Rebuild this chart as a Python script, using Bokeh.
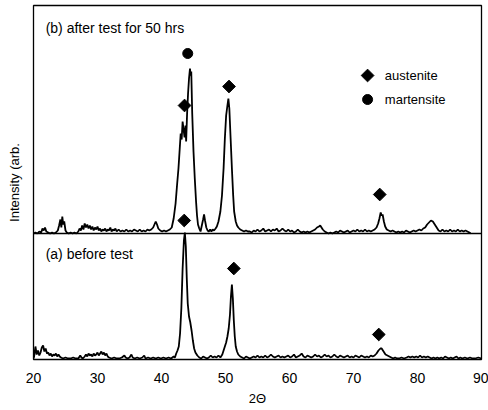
import numpy as np
from bokeh.plotting import figure
from bokeh.models import Range1d, FixedTicker
from bokeh.core.properties import value
from bokeh.embed import file_html
from bokeh.resources import INLINE

# ---------------- data ----------------
# (b) after test for 50 hrs : 2theta and intensity above its own baseline
b_theta = [20.0, 20.3, 20.6, 20.9, 21.2, 21.4, 21.6, 21.8, 22.0, 22.3, 22.6, 22.9, 23.2, 23.5, 23.8, 24.0,
           24.2, 24.35, 24.5, 24.65, 24.8, 25.0, 25.2, 25.5, 25.8, 26.1, 26.4, 26.7, 27.0, 27.2, 27.4, 27.6,
           27.8, 28.0, 28.2, 28.4, 28.6, 28.8, 29.0, 29.2, 29.4, 29.6, 29.8, 30.0, 30.2, 30.4, 30.6, 30.8,
           31.0, 31.2, 31.4, 31.6, 31.8, 32.0, 32.2, 32.4, 32.6, 32.8, 33.0, 33.3, 33.6, 33.9, 34.2, 34.5,
           34.8, 35.1, 35.4, 35.7, 36.0, 36.3, 36.6, 36.9, 37.2, 37.5, 37.8, 38.1, 38.4, 38.7, 38.9, 39.1,
           39.3, 39.5, 39.8, 40.1, 40.4, 40.7, 41.0, 41.3, 41.6, 41.9, 42.2, 42.45, 42.65, 42.85, 43.0, 43.15,
           43.3, 43.45, 43.6, 43.75, 43.85, 44.0, 44.15, 44.3, 44.45, 44.55, 44.65, 44.8, 45.0, 45.2, 45.4, 45.55,
           45.7, 45.9, 46.1, 46.3, 46.5, 46.65, 46.8, 47.0, 47.2, 47.4, 47.6, 47.8, 48.0, 48.2, 48.45, 48.65,
           48.9, 49.2, 49.45, 49.7, 49.9, 50.1, 50.3, 50.45, 50.6, 50.8, 51.0, 51.2, 51.35, 51.6, 51.8, 52.0,
           52.3, 52.6, 52.9, 53.2, 53.5, 53.8, 54.1, 54.4, 54.7, 55.0, 55.3, 55.6, 55.9, 56.2, 56.5, 56.8,
           57.1, 57.4, 57.7, 58.0, 58.3, 58.6, 58.9, 59.2, 59.5, 59.8, 60.1, 60.4, 60.7, 61.0, 61.3, 61.6,
           61.9, 62.2, 62.5, 62.8, 63.1, 63.4, 63.7, 64.0, 64.3, 64.6, 64.8, 65.0, 65.2, 65.5, 65.8, 66.1,
           66.4, 66.7, 67.0, 67.3, 67.6, 67.9, 68.2, 68.5, 68.8, 69.1, 69.4, 69.7, 70.0, 70.3, 70.6, 70.9,
           71.2, 71.5, 71.8, 72.1, 72.4, 72.7, 73.0, 73.3, 73.6, 73.85, 74.05, 74.25, 74.4, 74.55, 74.75, 74.95,
           75.2, 75.5, 75.8, 76.1, 76.4, 76.7, 77.0, 77.3, 77.6, 77.9, 78.2, 78.5, 78.8, 79.1, 79.4, 79.7,
           80.0, 80.3, 80.6, 80.9, 81.2, 81.5, 81.8, 82.1, 82.4, 82.7, 83.0, 83.3, 83.6, 83.9, 84.2, 84.5,
           84.8, 85.1, 85.4, 85.7, 86.0, 86.3, 86.6, 86.9, 87.2, 87.5, 87.8, 88.1, 88.3]
b_int = [0, 1, 0, 2, 1, 5, 3, 6, 2, 1, 0, 1, 0, 1, 3, 8,
         14, 6, 17, 9, 12, 3, 1, 0, 1, 0, 1, 0, 2, 5, 3, 8,
         4, 10, 6, 9, 5, 8, 4, 7, 3, 6, 4, 7, 3, 5, 2, 4,
         3, 5, 2, 4, 3, 6, 2, 4, 3, 5, 2, 4, 2, 3, 2, 4,
         2, 3, 2, 4, 3, 2, 4, 2, 3, 2, 4, 3, 4, 6, 9, 12,
         9, 5, 3, 2, 3, 2, 3, 4, 6, 15, 30, 50, 65, 85, 100, 94,
         112, 104, 96, 108, 92, 120, 140, 155, 165, 158, 162, 120, 82, 55, 32, 18,
         9, 5, 2, 8, 14, 19, 13, 6, 3, 2, 4, 2, 4, 3, 5, 7,
         12, 22, 38, 65, 95, 118, 128, 135, 125, 95, 65, 38, 22, 12, 8, 6,
         4, 3, 2, 3, 2, 2, 1, 3, 2, 4, 2, 3, 5, 2, 3, 4,
         2, 4, 3, 5, 2, 3, 5, 3, 2, 4, 2, 3, 1, 2, 4, 2,
         1, 2, 1, 2, 1, 2, 3, 4, 6, 7, 8, 6, 4, 2, 1, 0,
         1, 0, 1, 2, 1, 3, 2, 1, 2, 3, 1, 2, 3, 2, 4, 2,
         3, 2, 4, 2, 3, 2, 3, 4, 6, 10, 15, 21, 18, 19, 12, 7,
         4, 3, 2, 3, 2, 1, 2, 1, 2, 1, 3, 2, 1, 2, 3, 2,
         3, 4, 3, 5, 6, 9, 11, 13, 12, 9, 6, 3, 2, 4, 2, 3,
         2, 4, 2, 3, 2, 4, 2, 3, 2, 3, 2, 1, 0]

# (a) before test
a_theta = [20.0, 20.1, 20.3, 20.5, 20.7, 20.9, 21.1, 21.3, 21.5, 21.7, 21.9, 22.1, 22.3, 22.5, 22.7, 22.9,
           23.1, 23.3, 23.5, 23.7, 23.9, 24.1, 24.3, 24.6, 25.0, 25.4, 25.8, 26.2, 26.6, 27.0, 27.3, 27.5,
           27.7, 28.0, 28.2, 28.4, 28.6, 28.8, 29.0, 29.2, 29.4, 29.6, 29.8, 30.0, 30.2, 30.4, 30.6, 30.8,
           31.0, 31.2, 31.4, 31.6, 31.8, 32.2, 32.6, 33.0, 33.4, 33.8, 34.2, 34.4, 34.7, 35.0, 35.3, 35.5,
           35.8, 36.2, 36.6, 37.0, 37.3, 37.5, 37.9, 38.3, 38.7, 39.1, 39.5, 39.9, 40.3, 40.7, 41.1, 41.5,
           41.9, 42.1, 42.3, 42.5, 42.7, 42.9, 43.1, 43.3, 43.5, 43.65, 43.8, 43.95, 44.1, 44.3, 44.5, 44.7,
           44.9, 45.1, 45.3, 45.6, 45.9, 46.2, 46.5, 46.8, 47.1, 47.4, 47.7, 48.0, 48.3, 48.6, 48.9, 49.2,
           49.5, 49.7, 49.9, 50.1, 50.3, 50.5, 50.7, 50.85, 51.0, 51.15, 51.3, 51.45, 51.6, 51.8, 52.0, 52.3,
           52.6, 52.9, 53.2, 53.5, 53.8, 54.1, 54.4, 54.7, 55.0, 55.3, 55.6, 55.9, 56.2, 56.5, 56.8, 57.1,
           57.4, 57.7, 58.0, 58.3, 58.6, 58.9, 59.2, 59.5, 59.8, 60.1, 60.4, 60.7, 61.0, 61.3, 61.6, 61.9,
           62.2, 62.5, 62.8, 63.1, 63.4, 63.7, 64.0, 64.3, 64.6, 64.9, 65.2, 65.5, 65.8, 66.1, 66.4, 66.7,
           67.0, 67.3, 67.6, 67.9, 68.2, 68.5, 68.8, 69.1, 69.4, 69.7, 70.0, 70.3, 70.6, 70.9, 71.2, 71.5,
           71.8, 72.1, 72.4, 72.7, 73.0, 73.3, 73.6, 73.9, 74.2, 74.4, 74.7, 75.0, 75.3, 75.6, 75.9, 76.2,
           76.5, 76.8, 77.1, 77.5, 77.9, 78.3, 78.6, 78.9, 79.2, 79.5, 79.8, 80.1, 80.4, 80.7, 81.0, 81.3,
           81.6, 81.9, 82.2, 82.5, 82.8, 83.1, 83.4, 83.7, 84.0, 84.3, 84.6, 84.9, 85.2, 85.5, 85.8, 86.1,
           86.4, 86.7, 87.0, 87.4, 87.8, 88.2, 88.6, 89.0, 89.5, 90.0]
a_int = [0, 2, 12, 4, 8, 3, 6, 11, 13, 7, 10, 5, 6, 3, 5, 2,
         4, 3, 5, 2, 4, 2, 1, 0, 1, 0, 0, 1, 0, 0, 3, 1,
         0, 2, 4, 2, 5, 3, 4, 2, 5, 3, 4, 6, 3, 5, 7, 4,
         6, 3, 5, 2, 1, 0, 1, 0, 0, 1, 3, 1, 0, 1, 4, 1,
         0, 1, 0, 1, 3, 0, 1, 0, 1, 0, 1, 0, 1, 0, 1, 0,
         2, 1, 5, 8, 12, 25, 50, 90, 118, 126, 112, 80, 55, 42, 36, 28,
         18, 10, 6, 3, 1, 0, 2, 1, 0, 1, 3, 1, 2, 1, 3, 1,
         4, 8, 12, 16, 22, 30, 44, 62, 74, 60, 38, 22, 12, 7, 4, 2,
         1, 0, 2, 1, 0, 1, 2, 1, 3, 1, 2, 1, 3, 1, 2, 4,
         2, 1, 2, 3, 1, 2, 1, 2, 3, 1, 2, 4, 1, 2, 3, 5,
         2, 1, 3, 2, 1, 2, 4, 2, 3, 1, 2, 4, 2, 3, 1, 2,
         4, 2, 1, 3, 2, 1, 2, 3, 1, 2, 1, 3, 2, 1, 3, 2,
         1, 2, 1, 3, 2, 3, 5, 8, 10, 10, 7, 4, 3, 2, 1, 0,
         1, 0, 0, 1, 0, 1, 2, 1, 2, 1, 2, 1, 3, 1, 2, 1,
         2, 1, 0, 1, 0, 1, 0, 1, 0, 2, 1, 0, 1, 0, 1, 2,
         0, 1, 0, 1, 0, 1, 0, 0, 1, 0]

# phase markers (2theta, height on the plot scale)
austenite_theta = [43.6, 50.55, 74.1, 43.55, 51.3, 73.95]
austenite_y = [254, 273, 165, 139, 91, 25]
martensite_theta = [44.1]
martensite_y = [306]

legend_labels = ["austenite", "martensite"]
x_ticks = [20, 30, 40, 50, 60, 70, 80, 90]

OFFSET_B = 126   # baseline of trace (b)
OFFSET_A = 1     # baseline of trace (a)
FONT = "Liberation Sans"

# ---------------- figure ----------------
p = figure(width=488, height=410, output_backend="svg", toolbar_location=None,
           x_range=Range1d(20, 90), y_range=Range1d(0, 354),
           min_border_left=33, min_border_right=7, min_border_top=5, min_border_bottom=51)
p.background_fill_color = "white"
p.border_fill_color = "white"
p.outline_line_color = "black"
p.outline_line_width = 1.3
p.xgrid.visible = False
p.ygrid.visible = False

p.xaxis.ticker = FixedTicker(ticks=x_ticks)
p.xaxis.axis_line_color = None
p.xaxis.major_tick_line_color = None
p.xaxis.minor_tick_line_color = None
p.xaxis.major_tick_out = 0
p.xaxis.major_label_standoff = 13
p.xaxis.major_label_text_font = FONT
p.xaxis.major_label_text_font_size = "14px"
p.xaxis.major_label_text_color = "black"
p.xaxis.axis_label = "2Θ"
p.xaxis.axis_label_text_font = FONT
p.xaxis.axis_label_text_font_style = "normal"
p.xaxis.axis_label_text_font_size = "13px"
p.xaxis.axis_label_text_color = "black"
p.xaxis.axis_label_standoff = 5

p.yaxis.ticker = FixedTicker(ticks=[])
p.yaxis.axis_line_color = None
p.yaxis.major_tick_line_color = None
p.yaxis.minor_tick_line_color = None
p.yaxis.major_tick_out = 0
p.yaxis.axis_label = "Intensity (arb."
p.yaxis.axis_label_text_font = FONT
p.yaxis.axis_label_text_font_style = "normal"
p.yaxis.axis_label_text_font_size = "13px"
p.yaxis.axis_label_text_color = "black"
p.yaxis.axis_label_standoff = 12

# divider between the two panels
p.line([20, 90], [OFFSET_B, OFFSET_B], line_color="black", line_width=1.3)

# traces
p.line(b_theta, list(np.array(b_int) + OFFSET_B), line_color="black", line_width=1.8)
p.line(a_theta, list(np.array(a_int) + OFFSET_A), line_color="black", line_width=1.8)

# phase markers
p.scatter(austenite_theta, austenite_y, marker="square", angle=np.pi / 4, size=9,
          fill_color="black", line_color="black")
p.scatter(martensite_theta, martensite_y, marker="circle", size=10,
          fill_color="black", line_color="black")

# legend (drawn as in the original)
p.scatter([72.2], [284], marker="square", angle=np.pi / 4, size=9, fill_color="black", line_color="black")
p.scatter([72.2], [260], marker="circle", size=10, fill_color="black", line_color="black")
p.text([74.9, 74.9], [284, 260], text=legend_labels, text_font=value(FONT),
       text_font_size="13px", text_baseline="middle", text_align="left", text_color="black")

# panel titles
p.text([21.9], [332], text=["(b) after test for 50 hrs"], text_font=value(FONT),
       text_font_size="14px", text_baseline="middle", text_align="left", text_color="black")
p.text([21.9], [106], text=["(a) before test"], text_font=value(FONT),
       text_font_size="14px", text_baseline="middle", text_align="left", text_color="black")

open("out.html", "w").write(file_html(p, INLINE))
